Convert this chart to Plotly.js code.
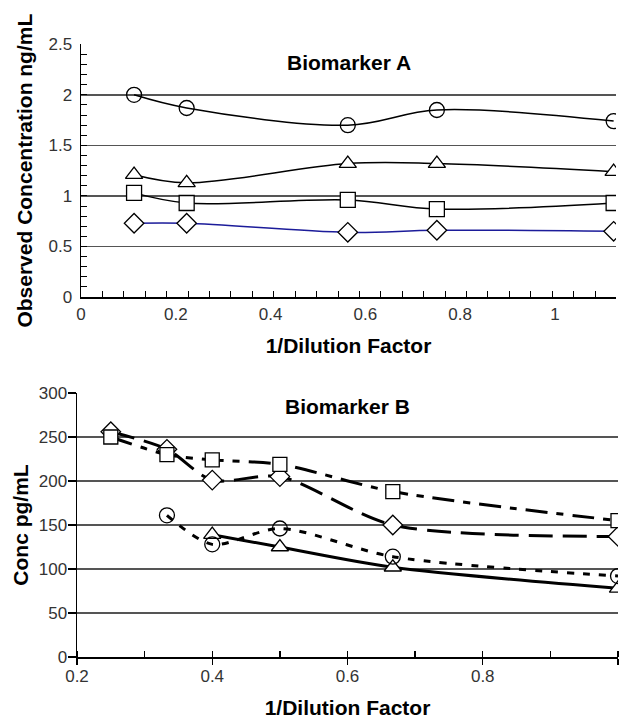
<!DOCTYPE html>
<html>
<head>
<meta charset="utf-8">
<script src="https://cdn.plot.ly/plotly-3.0.1.min.js"></script>
<style>html,body{margin:0;padding:0;background:#fff;}#chart{width:622px;height:720px;}</style>
</head>
<body>
<div id="chart"></div>
<script>
// ---- Biomarker A (top panel) ----
const xA = [0.112, 0.223, 0.563, 0.751, 1.124];
const circleA = [2.00, 1.87, 1.70, 1.85, 1.74];
const triangleA = [1.21, 1.13, 1.32, 1.32, 1.24];
const squareA = [1.03, 0.93, 0.96, 0.87, 0.93];
const diamondA = [0.73, 0.73, 0.64, 0.66, 0.65];

// ---- Biomarker B (bottom panel) ----
const xB = [0.25, 0.333, 0.4, 0.5, 0.667, 1.0];
const diamondB = [256, 236, 201, 205, 150, 137];
const squareB = [250, 230, 224, 219, 188, 155];
const xCircleB = [0.333, 0.4, 0.5, 0.667, 1.0];
const circleB = [161, 128, 146, 114, 92];
const xTriangleB = [0.4, 0.5, 0.667, 1.0];
const triangleB = [139, 125, 102, 78];

const titleA = "Biomarker A";
const titleB = "Biomarker B";
const xTitle = "1/Dilution Factor";
const yTitleA = "Observed Concentration ng/mL";
const yTitleB = "Conc pg/mL";

const FONT = "Liberation Sans, Arial, Helvetica, sans-serif";

function topTrace(x, y, symbol, lineColor, fill) {
  return {
    x: x, y: y, xaxis: 'x', yaxis: 'y', type: 'scatter', mode: 'lines+markers',
    line: {color: lineColor, width: 1.5, shape: 'spline', smoothing: 1},
    marker: {symbol: symbol, size: 15, color: fill, line: {color: '#000', width: 1.3}},
    showlegend: false, hoverinfo: 'x+y'
  };
}
function botTrace(x, y, symbol, dash, size, fill) {
  return {
    x: x, y: y, xaxis: 'x2', yaxis: 'y2', type: 'scatter', mode: 'lines+markers',
    line: {color: '#000', width: 3, dash: dash, shape: 'spline', smoothing: 0.8},
    marker: {symbol: symbol, size: size, color: fill, line: {color: '#000', width: 1.3}},
    showlegend: false, hoverinfo: 'x+y'
  };
}

const data = [
  topTrace(xA, circleA, 'circle-open', '#000', '#000'),
  topTrace(xA, triangleA, 'triangle-up', '#000', '#fff'),
  topTrace(xA, squareA, 'square', '#000', '#fff'),
  topTrace(xA, diamondA, 'diamond', '#1c1c9a', '#fff'),
  botTrace(xB, diamondB, 'diamond', '24px,10px', 15, '#fff'),
  botTrace(xB, squareB, 'square', '22px,9px,7px,9px', 14, '#fff'),
  botTrace(xTriangleB, triangleB, 'triangle-up', 'solid', 15, '#fff'),
  botTrace(xCircleB, circleB, 'circle-open', '7px,9px', 15, '#000')
];

const tickFont = {family: FONT, size: 17, color: '#333'};
const titleFont = {family: FONT, size: 21, color: '#000', weight: 'bold'};

const layout = {
  width: 622, height: 720,
  margin: {l: 0, r: 0, t: 0, b: 0},
  paper_bgcolor: '#fff', plot_bgcolor: '#fff',
  font: {family: FONT},
  xaxis: {
    domain: [81/622, 616/622], anchor: 'y', range: [0, 1.129],
    dtick: 0.2, tick0: 0, showgrid: false, zeroline: false,
    showline: true, linecolor: '#000', linewidth: 1.5,
    ticks: '', tickfont: tickFont, ticklabelstandoff: 1,
    minor: {dtick: 0.0452, tick0: 0, ticks: 'inside', ticklen: 6, tickcolor: '#000', tickwidth: 1, showgrid: false},
    title: {text: xTitle, font: titleFont, standoff: 15},
    automargin: false, fixedrange: true
  },
  yaxis: {
    domain: [(720-297)/720, (720-44.3)/720], anchor: 'x', range: [0, 2.5],
    dtick: 0.5, showgrid: true, gridcolor: '#555', gridwidth: 1.5, zeroline: false,
    showline: true, linecolor: '#000', linewidth: 1.5,
    ticks: 'inside', ticklen: 6, tickcolor: '#000', tickwidth: 1,
    tickfont: tickFont, ticklabelstandoff: 4,
    minor: {dtick: 0.1, ticks: 'inside', ticklen: 6, tickcolor: '#000', tickwidth: 1, showgrid: false},
    title: {text: yTitleA, font: titleFont, standoff: 10},
    automargin: false, fixedrange: true
  },
  xaxis2: {
    domain: [77/622, 618/622], anchor: 'y2', range: [0.2, 1.0],
    dtick: 0.2, tick0: 0.2, showgrid: false, zeroline: false,
    showline: true, linecolor: '#000', linewidth: 1.5,
    ticks: 'outside', ticklen: 6, tickcolor: '#000', tickwidth: 1.3,
    tickfont: tickFont, ticklabelstandoff: -3,
    minor: {dtick: 0.1, tick0: 0.2, ticks: 'inside', ticklen: 6, tickcolor: '#000', tickwidth: 1.3, showgrid: false},
    title: {text: xTitle, font: titleFont, standoff: 15},
    automargin: false, fixedrange: true
  },
  yaxis2: {
    domain: [(720-657)/720, (720-393)/720], anchor: 'x2', range: [0, 300],
    dtick: 50, showgrid: true, gridcolor: '#555', gridwidth: 1.5, zeroline: false,
    showline: true, linecolor: '#000', linewidth: 1.5,
    ticks: 'outside', ticklen: 8, tickcolor: '#000', tickwidth: 1.3,
    tickfont: tickFont, ticklabelstandoff: -3,
    title: {text: yTitleB, font: titleFont, standoff: 4},
    automargin: false, fixedrange: true
  },
  annotations: [
    {text: titleA, xref: 'x domain', yref: 'y domain', x: 0.5, y: 0.926,
     xanchor: 'center', yanchor: 'middle', showarrow: false,
     font: {family: FONT, size: 21, color: '#000', weight: 'bold'}},
    {text: titleB, xref: 'x2 domain', yref: 'y2 domain', x: 0.5, y: 0.947,
     xanchor: 'center', yanchor: 'middle', showarrow: false,
     font: {family: FONT, size: 21, color: '#000', weight: 'bold'}}
  ]
};

Plotly.newPlot('chart', data, layout, {displayModeBar: false, staticPlot: true});
</script>
</body>
</html>
